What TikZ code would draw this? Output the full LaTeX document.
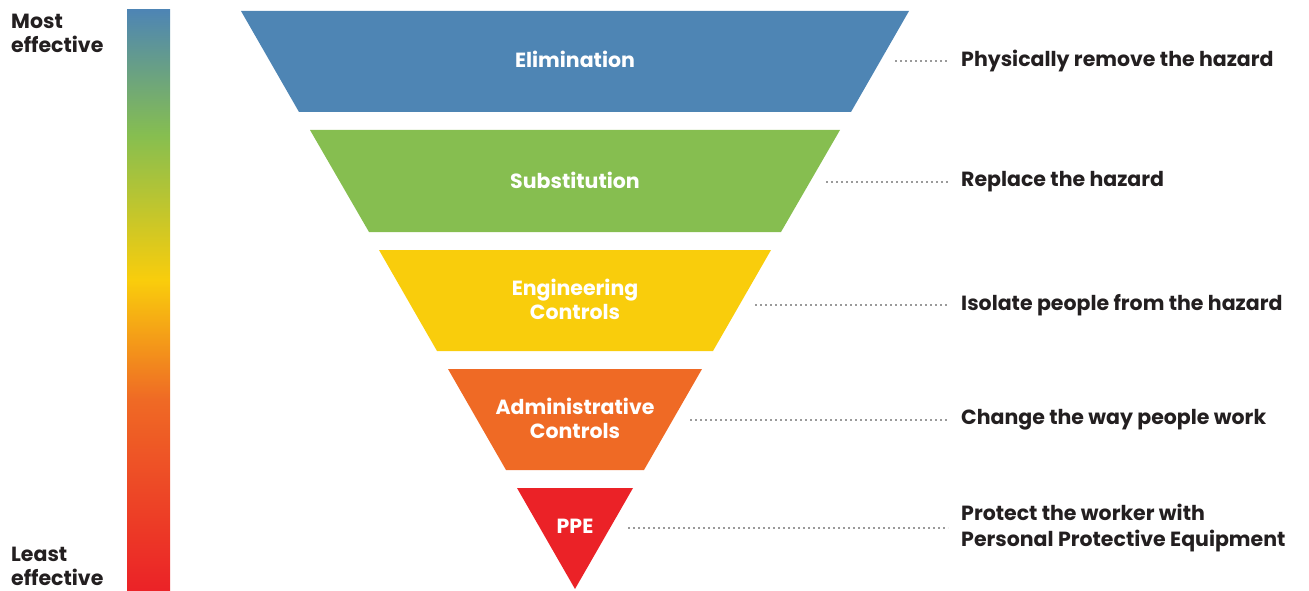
\documentclass[tikz,border=0pt]{standalone}
\usepackage{fontspec}
\setmainfont{Poppins}
\usepackage{xcolor}
\usepackage{tikz}

\definecolor{elimblue}{HTML}{4E85B4}
\definecolor{subgreen}{HTML}{86BE50}
\definecolor{enggold}{HTML}{F9CD0C}
\definecolor{adminorange}{HTML}{EF6A25}
\definecolor{pperred}{HTML}{EB2227}
\definecolor{inkdark}{HTML}{231F20}
\definecolor{leadergray}{HTML}{9A9A9A}

% colour bar, red at the bottom up to blue at the top
\pgfdeclareverticalshading{effbar}{100bp}{color(0bp)=(pperred); color(25bp)=(pperred);
  color(41.5bp)=(adminorange); color(51.75bp)=(enggold); color(64.25bp)=(subgreen);
  color(75bp)=(elimblue); color(100bp)=(elimblue)}

\tikzset{
  layertxt/.style={text=white, font=\fontsize{20.5}{24}\selectfont\bfseries, align=center, inner sep=0pt},
  desctxt/.style={text=inkdark, font=\fontsize{20.5}{26}\selectfont\bfseries, align=left, anchor=west, inner sep=0pt},
  sidetxt/.style={text=inkdark, font=\fontsize{20.5}{24}\selectfont\bfseries, align=left, anchor=west, inner sep=0pt},
  leader/.style={leadergray, line width=1.6pt, dash pattern=on 2pt off 3pt, shorten >=13pt}
}

\begin{document}
\begin{tikzpicture}[x=1pt,y=-1pt]

\useasboundingbox (0,0) rectangle (1309,591);

% effectiveness bar
\shade[shading=effbar] (127,10) rectangle (170,591);
\node[sidetxt] (most) at (11,33) {Most\\effective};
\node[sidetxt] (least) at (11,566) {Least\\effective};

% the five layers
\fill[elimblue] (241,11) -- (909,11) -- (851,112) -- (299,112) -- cycle;
\fill[subgreen] (310,130) -- (840,130) -- (781,232) -- (369,232) -- cycle;
\fill[enggold] (379,250) -- (771,250) -- (713,351) -- (437,351) -- cycle;
\fill[adminorange] (448,369) -- (702,369) -- (644,470) -- (506,470) -- cycle;
\fill[pperred] (517,488) -- (633,488) -- (575,589) -- cycle;

\node[layertxt] (elim) at (575,59) {Elimination};
\node[layertxt] (subst) at (575,180) {Substitution};
\node[layertxt] (eng) at (575,299) {Engineering\\Controls};
\node[layertxt] (admin) at (575,418) {Administrative\\Controls};
\node[layertxt] (ppe) at (575,526) {PPE};

% descriptions
\node[desctxt] (elim-d) at (961,61) {Physically remove the hazard};
\node[desctxt] (subst-d) at (961,182) {Replace the hazard};
\node[desctxt] (eng-d) at (961,305) {Isolate people from the hazard};
\node[desctxt] (admin-d) at (961,420) {Change the way people work};
\node[desctxt] (ppe-d) at (961,528) {Protect the worker with\\Personal Protective Equipment};

% dotted leaders
\coordinate (elim-e) at (895,61);
\coordinate (subst-e) at (826,182);
\coordinate (eng-e) at (755,305);
\coordinate (admin-e) at (690,420);
\coordinate (ppe-e) at (628,528);

\draw[leader] (elim-e) -- (elim-d.west);
\draw[leader] (subst-e) -- (subst-d.west);
\draw[leader] (eng-e) -- (eng-d.west);
\draw[leader] (admin-e) -- (admin-d.west);
\draw[leader] (ppe-e) -- (ppe-d.west);

\end{tikzpicture}
\end{document}
